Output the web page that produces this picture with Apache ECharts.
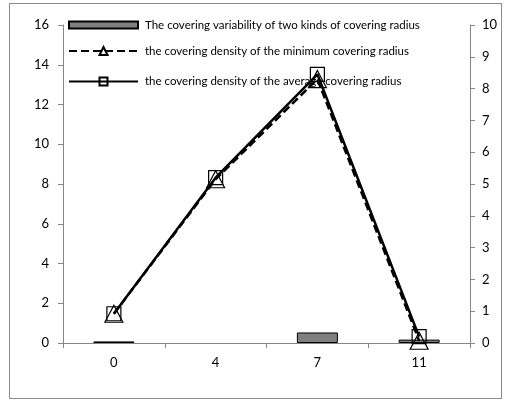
<!DOCTYPE html>
<html>
<head>
<meta charset="utf-8">
<script src="https://cdn.jsdelivr.net/npm/echarts@6/dist/echarts.min.js"></script>
<style>
  html, body { margin: 0; padding: 0; background: #fff; }
  #frame { position: absolute; left: 9px; top: 3px; width: 491px; height: 394px; border: 1px solid #8c8c8c; }
  #chart { position: absolute; left: 0; top: 0; width: 510px; height: 401px; }
</style>
</head>
<body>
<div id="frame"></div>
<div id="chart"></div>
<script>
// Categories along the x axis
const categories = ['0', '4', '7', '11'];

// Series names
const barName = 'The covering variability of two kinds of covering radius';
const minName = 'the covering density of the minimum covering radius';
const avgName = 'the covering density of the average covering radius';

// Covering variability (left axis)
const variability = [0.08, null, 0.53, 0.17];
// Covering density, minimum radius (right axis)
const densityMin = [0.92, 5.15, 8.3, 0.07];
// Covering density, average radius (right axis)
const densityAvg = [0.92, 5.2, 8.45, 0.2];

// Axis ranges
const leftMax = 16, leftStep = 2;
const rightMax = 10, rightStep = 1;

const FONT = 'Lato';
const axisGray = '#868686';

const chart = echarts.init(document.getElementById('chart'), null, { renderer: 'canvas' });

const valueAxisBase = {
  type: 'value',
  min: 0,
  splitLine: { show: false },
  axisLine: { show: true, lineStyle: { color: axisGray, width: 1 } },
  axisTick: { show: true, inside: false, length: 5, lineStyle: { color: axisGray } },
  axisLabel: { color: '#000', fontFamily: FONT, fontSize: 13 }
};

const legendText = { fontFamily: FONT, fontSize: 11.5, color: '#000', padding: [0, 0, 0, 2] };

chart.setOption({
  animation: false,
  backgroundColor: 'transparent',
  grid: { left: 63, right: 40, top: 25, bottom: 58, containLabel: false },
  legend: [
    {
      data: [{ name: barName, icon: 'rect' }],
      left: 63, top: 14,
      itemWidth: 69, itemHeight: 7, itemGap: 0,
      textStyle: legendText
    },
    {
      data: [minName, avgName],
      orient: 'vertical',
      left: 63, top: 40,
      itemWidth: 69, itemHeight: 10, itemGap: 18.5,
      textStyle: legendText
    }
  ],
  xAxis: {
    type: 'category',
    data: categories,
    boundaryGap: true,
    axisLine: { show: true, lineStyle: { color: axisGray } },
    axisTick: { show: true, alignWithLabel: false, length: 5, lineStyle: { color: axisGray } },
    axisLabel: { color: '#000', fontFamily: FONT, fontSize: 13, margin: 13 }
  },
  yAxis: [
    Object.assign({}, valueAxisBase, {
      position: 'left', max: leftMax, interval: leftStep,
      axisLabel: Object.assign({}, valueAxisBase.axisLabel, { margin: 14 })
    }),
    Object.assign({}, valueAxisBase, {
      position: 'right', max: rightMax, interval: rightStep,
      axisLabel: Object.assign({}, valueAxisBase.axisLabel, { margin: 12 })
    })
  ],
  series: [
    {
      name: barName,
      type: 'bar',
      yAxisIndex: 0,
      data: variability,
      barWidth: 41,
      itemStyle: { color: '#808080', borderColor: '#000', borderWidth: 1 },
      z: 1
    },
    {
      name: minName,
      type: 'line',
      yAxisIndex: 1,
      data: densityMin,
      symbol: 'triangle',
      symbolSize: [18, 17],
      lineStyle: { color: '#000', width: 2.5, type: [8, 4] },
      itemStyle: { color: 'rgba(255,255,255,0)', borderColor: '#000', borderWidth: 1.2 },
      z: 3
    },
    {
      name: avgName,
      type: 'line',
      yAxisIndex: 1,
      data: densityAvg,
      symbol: 'rect',
      symbolSize: 14,
      lineStyle: { color: '#000', width: 2.5 },
      itemStyle: { color: 'rgba(255,255,255,0)', borderColor: '#000', borderWidth: 1.2 },
      z: 4
    }
  ]
});
</script>
</body>
</html>
